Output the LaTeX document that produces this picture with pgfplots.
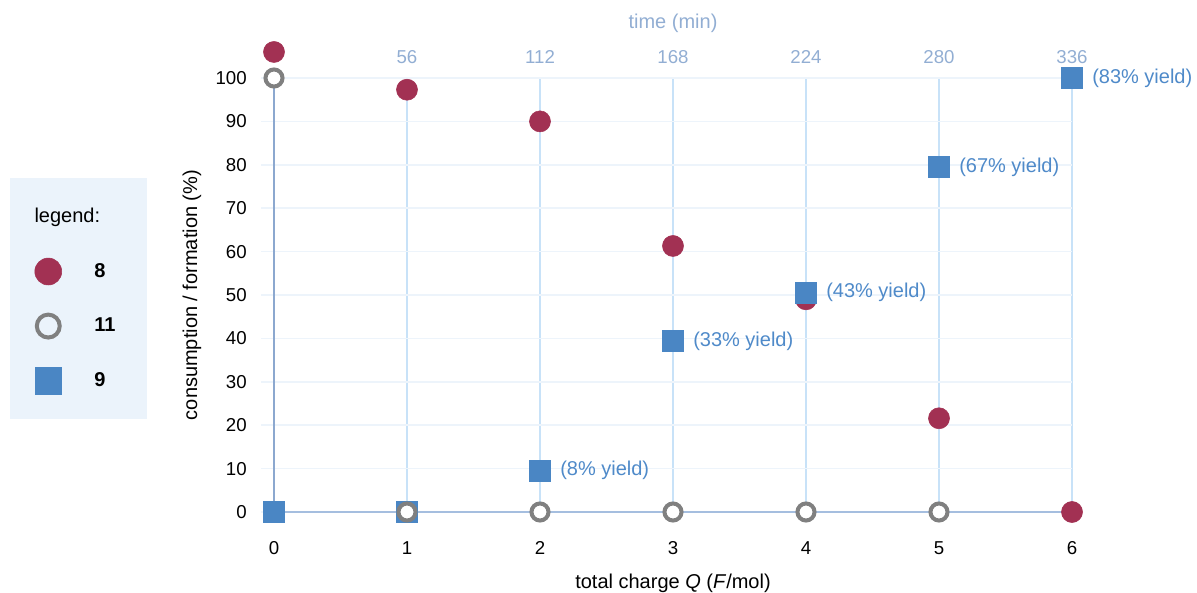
\documentclass[border=0pt]{standalone}
\usepackage{pgfplots}
\pgfplotsset{compat=1.18}
\usepackage{fontspec}
\setmainfont{Liberation Sans}
\definecolor{crim}{HTML}{A23153}
\definecolor{grayc}{HTML}{808080}
\definecolor{bluec}{HTML}{4A86C4}
\definecolor{labc}{HTML}{4F8AC9}
\definecolor{topc}{HTML}{92AED3}
\definecolor{vgrid}{HTML}{C8E2F8}
\definecolor{hgrid}{HTML}{EDF4FB}
\definecolor{leftc}{HTML}{8CA8CF}
\definecolor{botc}{HTML}{A5BEDF}
\definecolor{legbg}{HTML}{EBF3FB}
\newcommand{\bigf}{\fontsize{15}{18}\selectfont}
\begin{document}
\fontsize{14}{17}\selectfont
\begin{tikzpicture}[font=\fontsize{14}{17}\selectfont]
\useasboundingbox (0,0) rectangle (897.75pt,444.75pt);
\begin{axis}[
  at={(205.5pt,60.75pt)}, anchor=south west,
  scale only axis, width=598.5pt, height=325.5pt,
  xmin=0, xmax=6, ymin=0, ymax=100, clip=false,
  axis x line*=bottom, axis y line*=left,
  x axis line style={draw=botc, line width=1.2pt, -},
  y axis line style={draw=leftc, line width=1.5pt, -},
  xtick={0,...,6}, ytick={0,10,...,100},
  xmajorgrids, ymajorgrids,
  x grid style={draw=vgrid, line width=1.2pt},
  y grid style={draw=hgrid, line width=1.2pt},
  xtick style={draw=none},
  ytick style={draw=hgrid, line width=1.2pt},
  major tick length=9.75pt,
  ytick align=outside,
  /pgf/number format/assume math mode=true,
  xticklabel style={anchor=center, inner sep=0pt, yshift=-27pt},
  yticklabel style={anchor=east, inner sep=0pt, xshift=-10.5pt},
  every axis x label/.style={at={(axis description cs:0.5,-0.1636)}, anchor=center, font=\bigf},
  every axis y label/.style={at={(axis description cs:-0.1028,0.5)}, anchor=center, rotate=90, font=\bigf},
  xlabel={total charge \textit{Q} (\textit{F}/mol)},
  ylabel={consumption / formation (\%)},
  legend image code/.code={\draw[#1] plot coordinates {(0pt,0pt)};},
  legend style={at={(axis description cs:-0.33083,0.76959)}, anchor=north west,
    fill=legbg, draw=none, inner xsep=18.4pt, inner ysep=8.6pt, row sep=0pt,
    nodes={inner sep=0pt, minimum height=40.9pt, anchor=west, text width=21.4pt, font=\bigf},
    /tikz/every odd column/.append style={column sep=24.4pt}},
]
\addlegendimage{legend image code/.code={\node[overlay, anchor=west, inner sep=0pt, font=\bigf] at (-10.5pt,0pt) {legend:};}}
\addlegendentry{}
\addlegendimage{only marks, mark=*, mark size=10.1pt, mark options={draw=crim, fill=crim}}
\addlegendentry{\textbf{8}}
\addlegendimage{only marks, mark=*, mark size=8.6pt, mark options={draw=grayc, fill=legbg, line width=3pt}}
\addlegendentry{\textbf{11}}
\addlegendimage{only marks, mark=square*, mark size=10pt, mark options={draw=bluec, fill=bluec}}
\addlegendentry{\textbf{9}}

% series 8
\addplot[forget plot, only marks, mark=*, mark size=7.9pt, mark options={draw=crim, fill=crim}]
  coordinates {(0,106) (1,97.3) (2,90) (3,61.3) (4,49) (5,21.6) (6,0)};
% series 9
\addplot[forget plot, only marks, mark=square*, mark size=7.9pt, mark options={draw=bluec, fill=bluec}]
  coordinates {(0,0) (1,0) (2,9.6) (3,39.4) (4,50.6) (5,79.5) (6,100)};
% series 11
\addplot[forget plot, only marks, mark=*, mark size=6.4pt, mark options={draw=grayc, fill=white, line width=3pt}]
  coordinates {(0,100) (1,0) (2,0) (3,0) (4,0) (5,0)};
% yield labels
\addplot[forget plot, draw=none, mark=none, nodes near coords, point meta=explicit symbolic,
  nodes near coords style={anchor=west, xshift=15pt, inner sep=0pt, text=labc, font=\bigf}]
  coordinates {(2,9.6)[(8\% yield)] (3,39.4)[(33\% yield)] (4,50.6)[(43\% yield)] (5,79.5)[(67\% yield)] (6,100)[(83\% yield)]};
\end{axis}
\begin{axis}[
  at={(205.5pt,60.75pt)}, anchor=south west,
  scale only axis, width=598.5pt, height=325.5pt,
  xmin=0, xmax=336, ymin=0, ymax=100,
  axis x line*=top, axis y line=none,
  x axis line style={draw=none},
  xtick={56,112,168,224,280,336},
  xtick style={draw=none},
  /pgf/number format/assume math mode=true,
  xticklabel style={anchor=center, inner sep=0pt, yshift=15.75pt, text=topc},
  every axis x label/.style={at={(axis description cs:0.5,1.127)}, anchor=center, text=topc, font=\bigf},
  xlabel={time (min)},
]
\end{axis}
\end{tikzpicture}
\end{document}
